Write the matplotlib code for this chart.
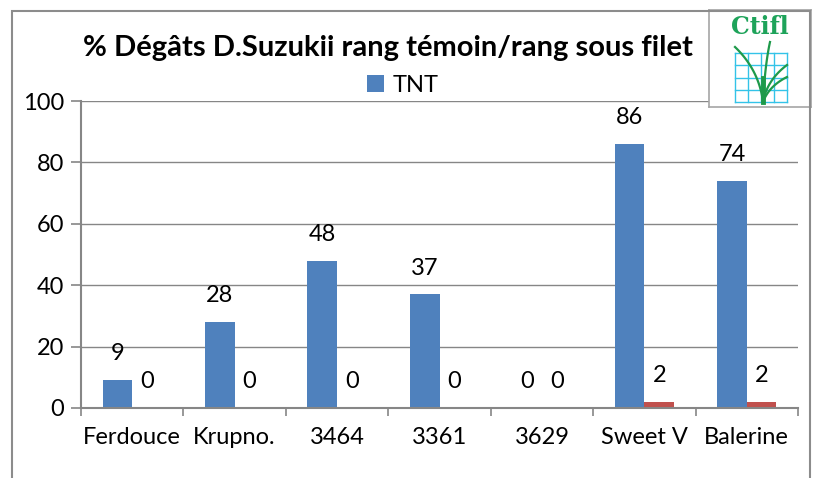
import numpy as np
import matplotlib.pyplot as plt
from matplotlib.patches import Rectangle

plt.rcParams['font.family'] = ['Lato', 'DejaVu Sans']

varietes = ["Ferdouce", "Krupno.", "3464", "3361", "3629", "Sweet V", "Balerine"]
tnt = [9, 28, 48, 37, 0, 86, 74]
filet = [0, 0, 0, 0, 0, 2, 2]

blue = "#4F81BD"
red = "#C0504D"
grey = "#868686"
fs = 17

W, H = 816, 478
fig = plt.figure(figsize=(W / 100, H / 100), dpi=100)

# outer chart border
fig.patches.append(Rectangle((12 / W, -0.01), (810 - 12) / W, 1 - 11 / H + 0.01,
                             transform=fig.transFigure, fill=False,
                             edgecolor="#8c8c8c", lw=1.5))

ax = fig.add_axes([81 / W, 1 - 408 / H, (798 - 81) / W, (408 - 101) / H])
x = np.arange(len(varietes))
bw = 0.29
b1 = ax.bar(x - bw / 2, tnt, bw, color=blue, label="TNT")
b2 = ax.bar(x + bw / 2, filet, bw, color=red)

for bars, vals in ((b1, tnt), (b2, filet)):
    for r, v in zip(bars, vals):
        ax.annotate(str(v), (r.get_x() + r.get_width() / 2, v),
                    xytext=(0, 19), textcoords="offset points",
                    ha="center", va="center", fontsize=fs)

ax.set_xlim(-0.5, len(varietes) - 0.5)
ax.set_ylim(0, 100)
ax.set_yticks(range(0, 101, 20))
ax.yaxis.grid(True, color=grey, lw=1)
ax.set_axisbelow(True)
ax.set_xticks(x)
ax.set_xticklabels(varietes)
ax.set_xticks(np.arange(-0.5, len(varietes)), minor=True)
ax.tick_params(axis="x", which="major", length=0, pad=14, labelsize=fs)
ax.tick_params(axis="x", which="minor", length=6, color=grey, width=1.2)
ax.tick_params(axis="y", length=7, color=grey, width=1.2, labelsize=fs, pad=5)
for s in ("top", "right"):
    ax.spines[s].set_visible(False)
for s in ("left", "bottom"):
    ax.spines[s].set_color(grey)
    ax.spines[s].set_linewidth(1.5)

fig.text(388 / W, 1 - 48 / H, "% Dégâts D.Suzukii rang témoin/rang sous filet",
         ha="center", va="center", fontsize=21, fontweight="bold")
ax.legend(handles=[b1], loc="center", bbox_to_anchor=(403 / W, 1 - 85 / H),
          bbox_transform=fig.transFigure, frameon=False, fontsize=fs,
          handlelength=0.7, handleheight=0.7, handletextpad=0.4)

# Ctifl logo box
lg = fig.add_axes([709 / W, 1 - 107 / H, 102 / W, 97 / H])
lg.set_xlim(0, 102)
lg.set_ylim(97, 0)
lg.set_xticks([])
lg.set_yticks([])
for s in lg.spines.values():
    s.set_color("#a6a6a6")
    s.set_linewidth(1.2)
lg.text(51, 17, "Ctifl", ha="center", va="center", fontsize=17,
        fontweight="bold", family="DejaVu Serif", color="#1ea35a")
for gx in np.linspace(26, 78, 5):
    lg.plot([gx, gx], [43, 92], color="#33c3e8", lw=1)
for gy in np.linspace(43, 92, 5):
    lg.plot([26, 78], [gy, gy], color="#33c3e8", lw=1)
t = np.linspace(0, 1, 30)
for (cx, cy), (ex, ey) in [((50, 60), (26, 37)), ((56, 55), (61, 32)),
                           ((58, 70), (78, 55)), ((60, 76), (78, 67))]:
    px = (1 - t) ** 2 * 54 + 2 * (1 - t) * t * cx + t ** 2 * ex
    py = (1 - t) ** 2 * 92 + 2 * (1 - t) * t * cy + t ** 2 * ey
    lg.plot(px, py, color="#1e9a4a", lw=1.6)
lg.plot([54, 54], [68, 92], color="#1e9a4a", lw=3.5)

fig.savefig("out.png", dpi=100)
